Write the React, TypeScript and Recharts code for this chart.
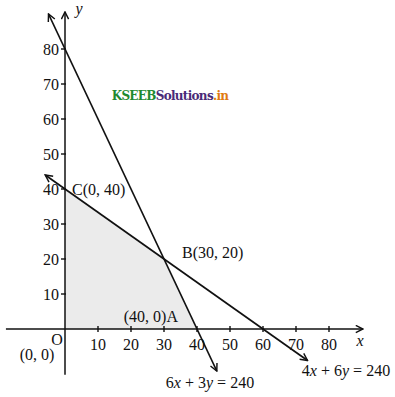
import React from 'react';
import { ComposedChart, Line, Area, Scatter, XAxis, YAxis, ReferenceDot } from 'recharts';

// tick values along both axes
const xTicks = [10, 20, 30, 40, 50, 60, 70, 80];
const yTicks = [10, 20, 30, 40, 50, 60, 70, 80];

// axes drawn through the origin (ends)
const xAxisLine = [{ x: -17.9, y: 0 }, { x: 90.3, y: 0 }];
const yAxisLine = [{ x: 0, y: -13.1 }, { x: 0, y: 90.6 }];

// 6x + 3y = 240 and 4x + 6y = 240, drawn between their arrow tips
const line6x3y = [{ x: -5, y: 90 }, { x: 46, y: -12 }];
const line4x6y = [{ x: -6, y: 44 }, { x: 73.5, y: -9 }];

// feasible region O-C-B-A (filled down to y = 0)
const feasible = [{ x: 0, y: 40 }, { x: 30, y: 20 }, { x: 40, y: 0 }];

const corners = {
  C: { x: 0, y: 40, text: 'C(0, 40)' },
  B: { x: 30, y: 20, text: 'B(30, 20)' },
  A: { x: 40, y: 0, text: '(40, 0)A' },
  O: { x: 0, y: 0, text: 'O' },
};

const W = 395;
const H = 397;
const FONT = 'Liberation Serif';
const INK = '#111';

const txt = (extra: any) => ({ fontFamily: FONT, fontSize: 16, fill: INK, ...extra });

const XTick = (props: any) => {
  const { cx, cy, payload } = props;
  return (
    <g>
      <line x1={cx} x2={cx} y1={cy - 3} y2={cy + 3} stroke={INK} strokeWidth={1.4} />
      <text x={cx} y={cy + 21} textAnchor="middle" {...txt({})}>{payload.x}</text>
    </g>
  );
};

const YTick = (props: any) => {
  const { cx, cy, payload } = props;
  return (
    <g>
      <line x1={cx - 4} x2={cx + 1} y1={cy} y2={cy} stroke={INK} strokeWidth={1.4} />
      <text x={cx - 6} y={cy + 5.5} textAnchor="end" {...txt({})}>{payload.y}</text>
    </g>
  );
};

const note = (content: React.ReactNode, dx: number, dy: number, anchor = 'start', extra: any = {}) =>
  (props: any) => (
    <text x={props.cx + dx} y={props.cy + dy} textAnchor={anchor} {...txt(extra)}>{content}</text>
  );

export default function App() {
  return (
    <div style={{ position: 'absolute', left: 0, top: 0, background: '#fff' }}>
      <ComposedChart width={W} height={H} margin={{ top: 0, right: 0, bottom: 0, left: 0 }}>
        <defs>
          <marker id="arrow" viewBox="0 0 10 10" refX="9" refY="5" markerWidth="9" markerHeight="9"
            markerUnits="userSpaceOnUse" orient="auto-start-reverse">
            <path d="M1,1 L9,5 L1,9" fill="none" stroke={INK} strokeWidth={1.6} />
          </marker>
        </defs>
        <XAxis type="number" dataKey="x" domain={[-65 / 3.3, 330 / 3.3]} allowDataOverflow hide />
        <YAxis type="number" dataKey="y" domain={[-(H - 329) / 3.5, 329 / 3.5]} allowDataOverflow hide />

        <Area data={feasible} dataKey="y" type="linear" baseValue={0} fill="#ebebeb" fillOpacity={1}
          stroke="none" dot={false} activeDot={false} isAnimationActive={false} />

        <Line data={xAxisLine} dataKey="y" type="linear" stroke={INK} strokeWidth={1.5} dot={false}
          activeDot={false} markerEnd="url(#arrow)" isAnimationActive={false} />
        <Line data={yAxisLine} dataKey="y" type="linear" stroke={INK} strokeWidth={1.5} dot={false}
          activeDot={false} markerEnd="url(#arrow)" isAnimationActive={false} />
        <Line data={line6x3y} dataKey="y" type="linear" stroke={INK} strokeWidth={1.7} dot={false}
          activeDot={false} markerStart="url(#arrow)" markerEnd="url(#arrow)" isAnimationActive={false} />
        <Line data={line4x6y} dataKey="y" type="linear" stroke={INK} strokeWidth={1.7} dot={false}
          activeDot={false} markerStart="url(#arrow)" markerEnd="url(#arrow)" isAnimationActive={false} />

        <Scatter data={xTicks.map((x) => ({ x, y: 0 }))} shape={XTick} isAnimationActive={false} />
        <Scatter data={yTicks.map((y) => ({ x: 0, y }))} shape={YTick} isAnimationActive={false} />

        <ReferenceDot x={corners.C.x} y={corners.C.y} r={0} shape={note(corners.C.text, 7, 6)} />
        <ReferenceDot x={corners.B.x} y={corners.B.y} r={0} shape={note(corners.B.text, 18, -1)} />
        <ReferenceDot x={corners.A.x} y={corners.A.y} r={0} shape={note(corners.A.text, -19, -7, 'end')} />
        <ReferenceDot x={corners.O.x} y={corners.O.y} r={0} shape={note(corners.O.text, -8, 16, 'middle')} />
        <ReferenceDot x={corners.O.x} y={corners.O.y} r={0} shape={note('(0, 0)', -28, 31, 'middle')} />

        <ReferenceDot x={40} y={0} r={0} shape={note(
          <>6<tspan fontStyle="italic">x</tspan> + 3<tspan fontStyle="italic">y</tspan> = 240</>, 13, 59, 'middle')} />
        <ReferenceDot x={60} y={0} r={0} shape={note(
          <>4<tspan fontStyle="italic">x</tspan> + 6<tspan fontStyle="italic">y</tspan> = 240</>, 83, 47, 'middle')} />

        <ReferenceDot x={90.3} y={0} r={0} shape={note('x', -3, 17, 'middle', { fontStyle: 'italic' })} />
        <ReferenceDot x={0} y={90.6} r={0} shape={note('y', 14, 2, 'middle', { fontStyle: 'italic' })} />

        <ReferenceDot x={30} y={70} r={0} shape={note(
          <>
            <tspan fill="#1f8a2f">KSEEB</tspan>
            <tspan fill="#4a2b78">Solutions</tspan>
            <tspan fill="#e07a10">.in</tspan>
          </>, 6, 16, 'middle', { fontWeight: 'bold', fontSize: 12, fontFamily: 'DejaVu Serif', letterSpacing: -0.7 })} />
      </ComposedChart>
    </div>
  );
}
